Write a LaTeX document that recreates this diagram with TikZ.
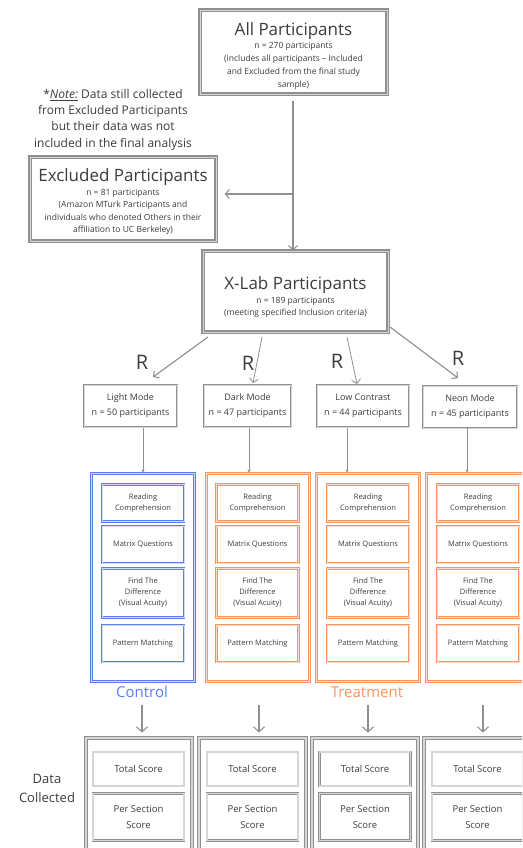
\documentclass[tikz,border=0pt]{standalone}
\usepackage{fontspec}
\setmainfont{Open Sans}
\usetikzlibrary{arrows.meta,calc}
\definecolor{ln}{HTML}{8F8F8F}
\definecolor{lnl}{HTML}{D6D6D6}
\definecolor{tx}{HTML}{3C3C3C}
\definecolor{blu}{HTML}{5C7CF2}
\definecolor{blul}{HTML}{D3DBFC}
\definecolor{org}{HTML}{F7935F}
\definecolor{orgl}{HTML}{FDDCCB}
\begin{document}
\begin{tikzpicture}[x=1pt,y=-1pt,
  bigbox/.style={draw=ln, line width=1.3pt, double=lnl, double distance=0.9pt, fill=white, inner sep=0pt},
  modebox/.style={draw=ln, line width=0.7pt, double=lnl, double distance=0.5pt, text=tx, align=center, inner sep=0pt, minimum height=42, font=\fontsize{9}{15}\selectfont},
  grpC/.style={draw=blu, line width=1pt, double=blul, double distance=1pt, inner sep=0pt, minimum width=103, minimum height=208},
  grpT/.style={draw=org, line width=1pt, double=orgl, double distance=1pt, inner sep=0pt, minimum width=103, minimum height=208},
  taskC/.style={draw=blu, line width=0.9pt, double=blul, double distance=0.9pt, text=tx, align=center, inner sep=0pt, minimum width=82, font=\fontsize{7.5}{11}\selectfont},
  taskT/.style={draw=org, line width=0.9pt, double=orgl, double distance=0.9pt, text=tx, align=center, inner sep=0pt, minimum width=82, font=\fontsize{7.5}{11}\selectfont},
  outbox/.style={draw=ln, line width=0.9pt, double=lnl, double distance=1.3pt, inner sep=0pt, minimum width=106, minimum height=118},
  score/.style={draw=ln, line width=0.9pt, double=lnl, double distance=1.1pt, text=tx, align=center, inner sep=0pt, minimum width=91, font=\fontsize{9.5}{16}\selectfont},
  arr/.style={draw=ln, line width=1.1pt, -{Straight Barb[length=4pt,width=9pt]}},
  thinarr/.style={draw=ln, line width=0.8pt, -{Stealth[length=3pt,width=3pt]}},
  plain/.style={text=tx, align=center, inner sep=0pt},
  small/.style={plain, font=\fontsize{8.5}{12.5}\selectfont}
]
\useasboundingbox (0,0) rectangle (522,848);
\clip (0,0) rectangle (522,848);

% top boxes
\node[bigbox, minimum width=187, minimum height=84] (all) at (293.5,52) {};
\node[small, font=\fontsize{8.5}{13}\selectfont] (allt) at (293.5,56)
  {{\fontsize{17}{20}\selectfont All Participants}\\
   n = 270 participants\\
   (includes all participants -- Included\\
   and Excluded from the final study\\
   sample)};

\node[plain, font=\fontsize{12}{16.3}\selectfont] (note) at (113,119.5)
  {*\emph{\underline{Note:}} Data still collected\\
   from Excluded Participants\\
   but their data was not\\
   included in the final analysis};

\node[bigbox, minimum width=186, minimum height=84] (excl) at (123,199) {};
\node[small] (exclt) at (123,202)
  {{\fontsize{17}{20}\selectfont Excluded Participants}\\[1pt]
   n = 81 participants\\
   (Amazon MTurk Participants and\\
   individuals who denoted Others in their\\
   affiliation to UC Berkeley)};

\node[bigbox, minimum width=185, minimum height=81] (xlab) at (295.5,291.5) {};
\node[small] (xlabt) at (295.5,297)
  {{\fontsize{17}{20}\selectfont X-Lab Participants}\\[1.5pt]
   n = 189 participants\\
   (meeting specified Inclusion criteria)};

\draw[arr, shorten <=6pt] (all.south -| 293,0) -- (293,0 |- xlab.north);
\coordinate (br) at (293,194);
\draw[arr, shorten >=8pt] (br) -- (excl.east |- br);

% mode boxes
\node[modebox, minimum width=93] (light) at (130.5,406) {Light Mode\\n = 50 participants};
\node[modebox, minimum width=87] (dark) at (247.5,406) {Dark Mode\\n = 47 participants};
\node[modebox, minimum width=92] (low) at (363,406) {Low Contrast\\n = 44 participants};
\node[modebox, minimum width=94] (neon) at (470,407) {Neon Mode\\n = 45 participants};

\coordinate (s1) at (208,337); \coordinate (e1) at (153,377);
\coordinate (s2) at (262,337); \coordinate (e2) at (253,383);
\coordinate (s3) at (347,337); \coordinate (e3) at (357,384);
\coordinate (s4) at (390,327); \coordinate (e4) at (458,378);
\draw[arr] (s1) -- (e1);
\draw[arr, line width=0.8pt] (s2) -- (e2);
\draw[arr, line width=0.8pt] (s3) -- (e3);
\draw[arr] (s4) -- (e4);

\node[plain, font=\fontsize{20}{24}\selectfont] (r1) at (142,362) {R};
\node[plain, font=\fontsize{20}{24}\selectfont] (r2) at (248,363) {R};
\node[plain, font=\fontsize{20}{24}\selectfont] (r3) at (337,361) {R};
\node[plain, font=\fontsize{20}{24}\selectfont] (r4) at (458,358) {R};

% group boxes
\node[grpC] (g1) at (142.5,577) {};
\node[grpT] (g2) at (257.5,577) {};
\node[grpT] (g3) at (367.5,577) {};
\node[grpT] (g4) at (478,577) {};

\coordinate (m1) at (143,428); \coordinate (m2) at (249,428);
\coordinate (m3) at (347,428); \coordinate (m4) at (467,428);
\draw[thinarr] (m1) -- (m1 |- g1.north);
\draw[thinarr] (m2) -- (m2 |- g2.north);
\draw[thinarr] (m3) -- (m3 |- g3.north);
\draw[thinarr] (m4) -- (m4 |- g4.north);

% tasks
\foreach \n/\cx/\st in {1/143/taskC, 2/257.5/taskT, 3/368/taskT, 4/478/taskT}{
  \node[\st, minimum height=37] (rd\n) at (\cx,503) {Reading\\Comprehension};
  \node[\st, minimum height=37] (mx\n) at (\cx,544.5) {Matrix Questions};
  \node[\st, minimum height=49] (fd\n) at (\cx,593) {Find The\\Difference\\(Visual Acuity)};
  \node[\st, minimum height=37] (pm\n) at (\cx,643.5) {Pattern Matching};
}

\node[plain, text=blu, font=\fontsize{15}{18}\selectfont] (ctl) at (142,692) {Control};
\node[plain, text=org, font=\fontsize{15}{18}\selectfont] (trt) at (367,692) {Treatment};

% bottom
\node[outbox] (o1) at (139,797) {};
\node[outbox, minimum width=107] (o2) at (252.5,797) {};
\node[outbox] (o3) at (365,797) {};
\node[outbox] (o4) at (477,797) {};

\coordinate (a1) at (142,705); \coordinate (a2) at (259,705);
\coordinate (a3) at (368,705); \coordinate (a4) at (483,705);
\draw[arr, -{Straight Barb[length=5pt,width=11pt]}, shorten >=5pt] (a1) -- (a1 |- o1.north);
\draw[arr, -{Straight Barb[length=5pt,width=11pt]}, shorten >=5pt] (a2) -- (a2 |- o2.north);
\draw[arr, -{Straight Barb[length=5pt,width=11pt]}, shorten >=5pt] (a3) -- (a3 |- o3.north);
\draw[arr, -{Straight Barb[length=5pt,width=11pt]}, shorten >=5pt] (a4) -- (a4 |- o4.north);

\foreach \n/\cx in {1/138.5, 2/252.5, 3/365, 4/477.5}{
  \node[score, minimum height=34] (ts\n) at (\cx,769) {Total Score};
  \node[score, minimum height=47] (ps\n) at (\cx,817) {Per Section\\Score};
}

\node[plain, font=\fontsize{13}{19}\selectfont] (dc) at (47,788) {Data\\Collected};
\end{tikzpicture}
\end{document}
